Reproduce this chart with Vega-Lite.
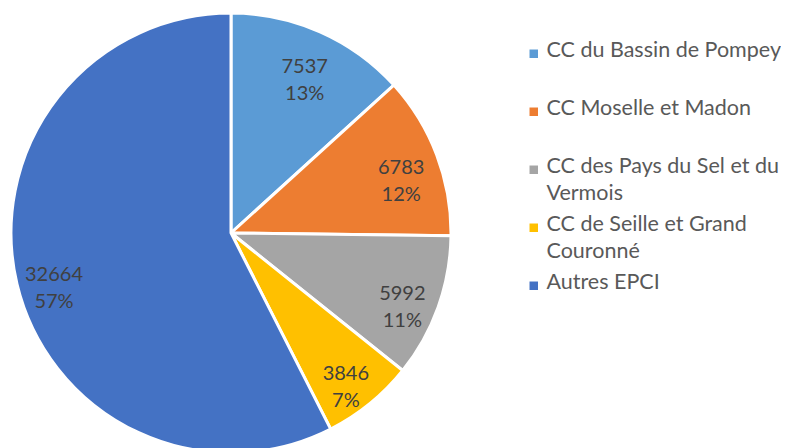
{
  "$schema": "https://vega.github.io/schema/vega-lite/v6.json",
  "width": 462,
  "height": 466,
  "padding": 0,
  "background": "white",
  "config": {"view": {"stroke": null}, "style": {"guide-label": {"lineHeight": 27, "dy": -14}}},
  "data": {
    "values": [
      {"i": 1, "name": "CC du Bassin de Pompey", "value": 7537, "label": "7537\n13%"},
      {"i": 2, "name": "CC Moselle et Madon", "value": 6783, "label": "6783\n12%"},
      {"i": 3, "name": "CC des Pays du Sel et du Vermois", "value": 5992, "label": "5992\n11%"},
      {"i": 4, "name": "CC de Seille et Grand Couronné", "value": 3846, "label": "3846\n7%"},
      {"i": 5, "name": "Autres EPCI", "value": 32664, "label": "32664\n57%"}
    ]
  },
  "encoding": {
    "theta": {"field": "value", "type": "quantitative", "stack": true},
    "order": {"field": "i", "type": "quantitative"}
  },
  "layer": [
    {
      "mark": {"type": "arc", "radius": 220, "stroke": "white", "strokeWidth": 3},
      "encoding": {
        "color": {
          "field": "name",
          "type": "nominal",
          "sort": ["CC du Bassin de Pompey", "CC Moselle et Madon", "CC des Pays du Sel et du Vermois", "CC de Seille et Grand Couronné", "Autres EPCI"],
          "scale": {
            "domain": ["CC du Bassin de Pompey", "CC Moselle et Madon", "CC des Pays du Sel et du Vermois", "CC de Seille et Grand Couronné", "Autres EPCI"],
            "range": ["#5B9BD5", "#ED7D31", "#A5A5A5", "#FFC000", "#4472C4"]
          },
          "legend": {
            "title": null,
            "orient": "none",
            "legendX": 523,
            "legendY": 43,
            "symbolType": "square",
            "symbolSize": 72,
            "symbolStrokeWidth": 0,
            "labelFont": "Lato",
            "labelFontSize": 21.5,
            "labelColor": "#595959",
            "labelOffset": 2,
            "labelLimit": 300,
            "rowPadding": 8,
            "gridAlign": "all",
            "labelBaseline": "top",
            "labelExpr": "datum.label == 'CC des Pays du Sel et du Vermois' ? ['CC des Pays du Sel et du', 'Vermois'] : datum.label == 'CC de Seille et Grand Couronné' ? ['CC de Seille et Grand', 'Couronné'] : datum.label"
          }
        }
      }
    },
    {
      "mark": {"type": "text", "radius": 182, "font": "Lato", "fontSize": 20, "color": "#404040", "lineBreak": "\n", "lineHeight": 27, "baseline": "middle"},
      "encoding": {
        "text": {"field": "label", "type": "nominal"}
      }
    }
  ]
}
